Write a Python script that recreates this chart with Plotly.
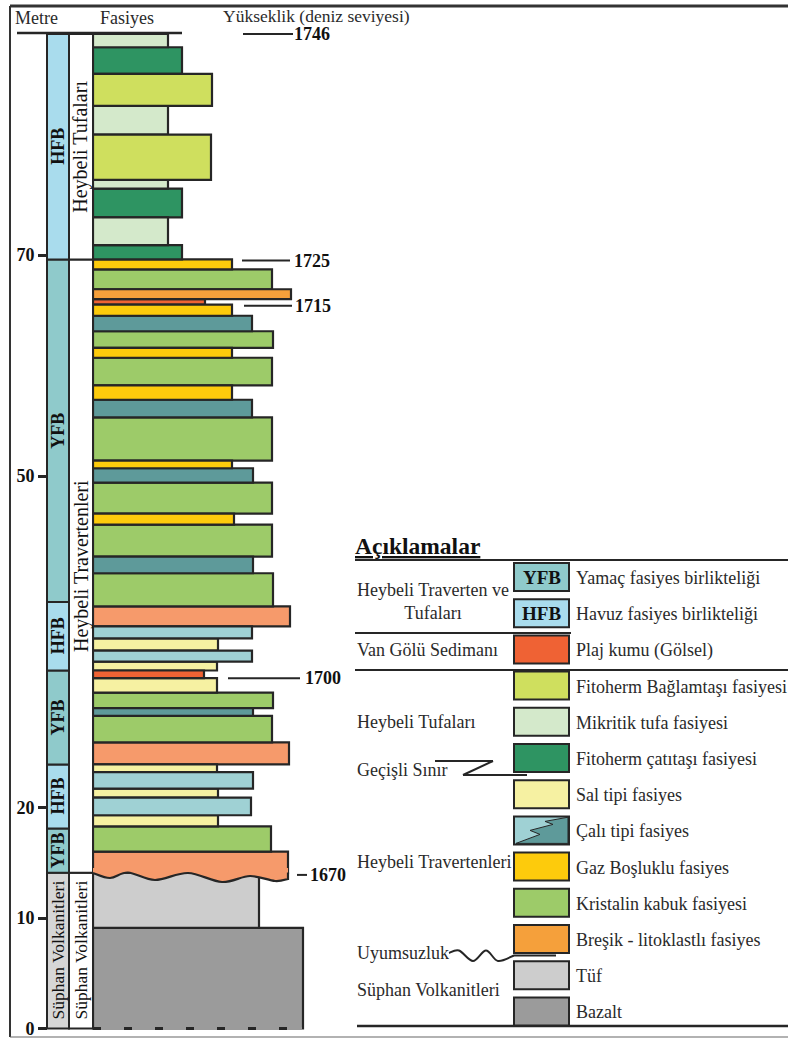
import plotly.graph_objects as go

W, H = 788, 1039
FONT = "Liberation Serif"
INK = "#262626"

# ---------------- data ----------------
facies_colors = {
    "mik": "#d4e9cb", "cat": "#2e9462", "bag": "#cfdf5e", "gaz": "#fdcb0c",
    "kri": "#9dcb69", "bre": "#f5a03b", "bre2": "#f69a6b", "pla": "#ef6234",
    "cal": "#5e9a9a", "cal2": "#9fd1d4", "sal": "#f6f1a2", "tuf": "#cdcdcd",
    "baz": "#9b9b9b", "YFB": "#8fcacb", "HFB": "#a9dced", "SUP": "#d6d6d6",
}

# stratigraphic layers, bottom to top (metres) and profile width
layer_facies = ["baz", "tuf", "bre2", "kri", "sal", "cal2", "sal", "cal2", "sal", "bre2",
                "kri", "cal", "kri", "sal", "pla", "sal", "cal2", "sal", "cal2", "bre2",
                "kri", "cal", "kri", "gaz", "kri", "cal", "gaz", "kri", "cal", "gaz",
                "kri", "gaz", "kri", "cal", "gaz", "pla", "bre", "kri", "gaz", "cat",
                "mik", "cat", "mik", "bag", "mik", "bag", "cat", "mik"]
layer_bottom = [0.0, 9.1, 14.1, 16.0, 18.3, 19.3, 20.9, 21.7, 23.2, 23.9,
                25.9, 28.3, 29.0, 30.4, 31.7, 32.4, 33.2, 34.2, 35.3, 36.4,
                38.2, 41.2, 42.7, 45.6, 46.6, 49.4, 50.7, 51.4, 55.3, 56.9,
                58.2, 60.7, 61.6, 63.1, 64.5, 65.5, 66.0, 66.9, 68.7, 69.6,
                70.9, 73.4, 76.0, 76.8, 80.9, 83.5, 86.4, 88.8]
layer_top = layer_bottom[1:] + [90.0]
layer_width = [210, 166, 195, 178, 125, 158, 125, 160, 124, 196,
               179, 160, 180, 124, 111, 124, 159, 125, 159, 197,
               180, 160, 179, 141, 179, 160, 139, 179, 159, 139,
               179, 139, 180, 159, 139, 112, 198, 179, 139, 89,
               75, 89, 75, 118, 75, 119, 89, 75]

assoc_labels = ["Süphan Volkanitleri", "YFB", "HFB", "YFB", "HFB", "YFB", "HFB"]
assoc_keys = ["SUP", "YFB", "HFB", "YFB", "HFB", "YFB", "HFB"]
assoc_bottom = [0.0, 14.1, 18.1, 23.9, 32.4, 38.6, 69.6]
assoc_top = [14.1, 18.1, 23.9, 32.4, 38.6, 69.6, 90.0]

form_labels = ["Süphan Volkanitleri", "Heybeli Travertenleri", "Heybeli Tufaları"]
form_bottom = [0.0, 14.1, 69.6]
form_top = [14.1, 69.6, 90.0]

metre_ticks = [0, 10, 20, 50, 70]

elev_labels = ["1746", "1725", "1715", "1700", "1670"]
elev_metre = [90.0, 69.5, 65.4, 31.7, 13.9]

legend_keys = ["YFB", "HFB", "pla", "bag", "mik", "cat", "sal", "cal", "gaz", "kri", "bre", "tuf", "baz"]
legend_labels = ["Yamaç fasiyes birlikteliği", "Havuz fasiyes birlikteliği", "Plaj kumu (Gölsel)",
                 "Fitoherm Bağlamtaşı fasiyesi", "Mikritik tufa fasiyesi", "Fitoherm çatıtaşı fasiyesi",
                 "Sal tipi fasiyes", "Çalı tipi fasiyes", "Gaz Boşluklu fasiyes",
                 "Kristalin kabuk fasiyesi", "Breşik - litoklastlı fasiyes", "Tüf", "Bazalt"]
group_labels = ["Heybeli Traverten ve<br>Tufaları", "Van Gölü Sedimanı", "Heybeli Tufaları",
                "Geçişli Sınır", "Heybeli Travertenleri", "Uyumsuzluk", "Süphan Volkanitleri"]

# ---------------- geometry (layout only) ----------------
Y0_PX, PXM, X0_PX = 1028.5, 11.05, 93.0


def P(x, y):
    return x / W, 1 - y / H


def fmt(pt):
    x, y = P(*pt)
    return f"{x:.5f},{y:.5f}"


def smooth(pts):
    d = ""
    for i in range(len(pts) - 1):
        p0 = pts[i - 1] if i > 0 else pts[i]
        p1, p2 = pts[i], pts[i + 1]
        p3 = pts[i + 2] if i + 2 < len(pts) else p2
        c1 = (p1[0] + (p2[0] - p0[0]) / 6, p1[1] + (p2[1] - p0[1]) / 6)
        c2 = (p2[0] - (p3[0] - p1[0]) / 6, p2[1] - (p3[1] - p1[1]) / 6)
        d += f" C{fmt(c1)} {fmt(c2)} {fmt(p2)}"
    return d


fig = go.Figure()

# facies column
for key in dict.fromkeys(layer_facies):
    idx = [i for i, f in enumerate(layer_facies) if f == key]
    fig.add_trace(go.Bar(
        orientation="h",
        y=[(layer_bottom[i] + layer_top[i]) / 2 for i in idx],
        width=[layer_top[i] - layer_bottom[i] for i in idx],
        x=[layer_width[i] for i in idx], base=0,
        marker=dict(color=facies_colors[key], line=dict(color=INK, width=2.2)),
        hoverinfo="skip"))

# association column
fig.add_trace(go.Bar(
    orientation="h",
    y=[(b + t) / 2 for b, t in zip(assoc_bottom, assoc_top)],
    width=[t - b for b, t in zip(assoc_bottom, assoc_top)],
    x=[22] * len(assoc_bottom), base=-46,
    marker=dict(color=[facies_colors[k] for k in assoc_keys], line=dict(color=INK, width=2)),
    hoverinfo="skip"))
# formation column
fig.add_trace(go.Bar(
    orientation="h",
    y=[(b + t) / 2 for b, t in zip(form_bottom, form_top)],
    width=[t - b for b, t in zip(form_bottom, form_top)],
    x=[24] * len(form_bottom), base=-24,
    marker=dict(color="white", line=dict(color=INK, width=2)),
    hoverinfo="skip"))

ann = []
shapes = []

for lab, b, t in zip(assoc_labels, assoc_bottom, assoc_top):
    bold = lab in ("YFB", "HFB")
    txt = f"<b>{lab}</b>" if bold else lab
    ann.append(dict(x=-35, y=(b + t) / 2, xref="x", yref="y", text=txt, textangle=-90,
                    showarrow=False, font=dict(family=FONT, size=18 if bold else 17.5, color="#111")))
for lab, b, t in zip(form_labels, form_bottom, form_top):
    ann.append(dict(x=-12, y=(b + t) / 2, xref="x", yref="y", text=lab, textangle=-90,
                    showarrow=False, font=dict(family=FONT, size=20 if "Heybeli" in lab else 17.5,
                                               color="#111")))

# elevation markers
elev_line = [(150, 200), (149, 197), (151, 199), (135, 207), (204, 214)]
elev_text_x = [199, 199, 200, 210, 215]
for lab, m, (a, b), tx in zip(elev_labels, elev_metre, elev_line, elev_text_x):
    shapes.append(dict(type="line", xref="x", yref="y", x0=a, x1=b, y0=m, y1=m,
                       line=dict(color=INK, width=2)))
    ann.append(dict(x=tx, y=m, xref="x", yref="y", text=f"<b>{lab}</b>", xanchor="left",
                    showarrow=False, font=dict(family=FONT, size=18, color="#111")))

# wavy unconformity at base of breccia
wave = [(93, 873), (110, 878), (128, 872.5), (155, 880), (188, 873), (222, 882),
        (250, 876), (275, 881), (288, 879)]
shapes.append(dict(type="path", xref="paper", yref="paper",
                   path=f"M{fmt((93, 868))} L{fmt(wave[0])}" + smooth(wave) + f" L{fmt((288, 868))} Z",
                   fillcolor=facies_colors["bre2"], line=dict(width=0)))
shapes.append(dict(type="path", xref="paper", yref="paper",
                   path=f"M{fmt(wave[0])}" + smooth(wave) + f" L{fmt((288, 872.5))}",
                   line=dict(color=INK, width=2.2)))
# dashed base of basalt
shapes.append(dict(type="line", xref="x", yref="y", x0=1, x1=209, y0=0, y1=0,
                   line=dict(color=facies_colors["baz"], width=3)))
shapes.append(dict(type="line", xref="x", yref="y", x0=0, x1=210, y0=0, y1=0,
                   line=dict(color=INK, width=3, dash="8px,23px")))


def pline(x0, y0, x1, y1, w=2, c=INK, dash=None):
    a, b = P(x0, y0)
    c2, d = P(x1, y1)
    ln = dict(color=c, width=w)
    if dash:
        ln["dash"] = dash
    shapes.append(dict(type="line", xref="paper", yref="paper", x0=a, y0=b, x1=c2, y1=d, line=ln))


pline(17, 33, 182, 33, 2.5)
pline(10, 6, 788, 6, 3, "#333")
pline(10, 6, 10, 1037, 2, "#333")
pline(10, 1037, 788, 1037, 1.2, "#666")


def ptext(x, y, text, size=16, anchor="left", color="#2a2a2a"):
    a, b = P(x, y)
    ann.append(dict(x=a, y=b, xref="paper", yref="paper", text=text, xanchor=anchor,
                    yanchor="middle", showarrow=False, font=dict(family=FONT, size=size, color=color)))


# header
ptext(13, 18, "Metre", size=18)
ptext(98, 18, "Fasiyes", size=18)
ptext(221, 16, "Yükseklik (deniz seviyesi)", size=17.5)

# legend
ptext(353, 546, "<b><u>Açıklamalar</u></b>", size=23.5, color="#111")
pline(355, 560, 788, 560, 2)
pline(355, 633, 571, 633, 2)
pline(355, 670, 788, 670, 2)
pline(357, 1026, 788, 1026, 2.5)

for i, (key, lab) in enumerate(zip(legend_keys, legend_labels)):
    top = 563 + i * 36.2
    bot = top + 28
    x0, y0 = P(514, top)
    x1, y1 = P(569, bot)
    shapes.append(dict(type="rect", xref="paper", yref="paper", x0=x0, x1=x1, y0=y0, y1=y1,
                       fillcolor=facies_colors["cal2" if key == "cal" else key],
                       line=dict(color=INK, width=2)))
    if key == "cal":
        zz = [(516, bot - 1), (540, bot - 10), (530, bot - 14), (553, bot - 20), (545, bot - 23),
              (567, top + 1)]
        path = "M" + " L".join(fmt(p) for p in zz) + f" L{fmt((568, top + 1))} L{fmt((568, bot - 1))} Z"
        shapes.append(dict(type="path", xref="paper", yref="paper", path=path,
                           fillcolor=facies_colors["cal"], line=dict(color=INK, width=1)))
    if key in ("YFB", "HFB"):
        ptext(541.5, (top + bot) / 2, f"<b>{key}</b>", size=19, anchor="center", color="#111")
    ptext(574, (top + bot) / 2 + 1, lab, size=18)

group_y = [601, 650, 722, 770, 862, 953, 990]
for lab, gy in zip(group_labels, group_y):
    ptext(355, gy, lab, size=18)

# Geçişli sınır Z symbol
pline(435, 761, 493, 761, 2)
pline(493, 761, 463, 775, 2)
pline(463, 775, 527, 775, 2)
# Uyumsuzluk wave symbol
uw = [(449, 953), (459, 950.5), (473, 961), (486, 950.5), (498, 961), (514, 955.5)]
shapes.append(dict(type="path", xref="paper", yref="paper",
                   path=f"M{fmt(uw[0])}" + smooth(uw) + f" L{fmt((556, 955.5))}",
                   line=dict(color=INK, width=2)))

fig.update_layout(
    width=W, height=H, margin=dict(l=0, r=0, t=0, b=0),
    paper_bgcolor="white", plot_bgcolor="white",
    showlegend=False, barmode="overlay",
    xaxis=dict(range=[-X0_PX, W - X0_PX], visible=False, fixedrange=True),
    yaxis=dict(range=[(Y0_PX - H) / PXM, Y0_PX / PXM], anchor="free", position=47 / W,
               tickvals=metre_ticks, ticks="outside", ticklen=9, tickwidth=2.5, tickcolor=INK,
               showgrid=False, zeroline=False, showline=False, automargin=False, fixedrange=True,
               tickfont=dict(family=FONT, size=18, color="#111", weight="bold")),
    annotations=ann, shapes=shapes,
)

fig.write_html("out.html")
